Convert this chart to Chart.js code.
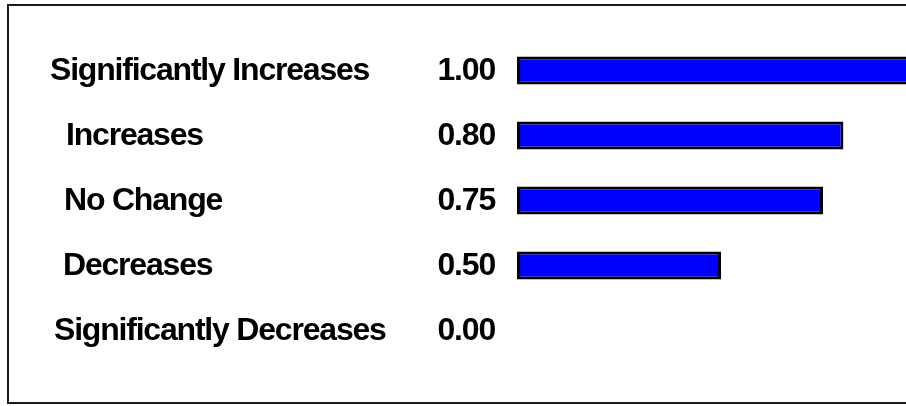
<!DOCTYPE html>
<html>
<head>
<meta charset="utf-8">
<title>Response scale</title>
<script src="https://cdn.jsdelivr.net/npm/chart.js@4/dist/chart.umd.min.js"></script>
<style>
    html, body { margin: 0; padding: 0; background: #fff; overflow: hidden; }
    #wrap { position: relative; width: 906px; height: 406px; overflow: hidden; }
    canvas { display: block; }
</style>
</head>
<body>
<div id="wrap">
    <canvas id="scaleChart" width="940" height="406"></canvas>
</div>
<script>
const categories = ["Significantly Increases", "Increases", "No Change", "Decreases", "Significantly Decreases"];
const weights = [1.00, 0.80, 0.75, 0.50, 0.00];

// frame + the two text columns (category name and its weight)
const scaleLabels = {
    id: 'scaleLabels',
    beforeDraw(chart) {
        const ctx = chart.ctx;
        ctx.save();
        ctx.strokeStyle = '#1a1a1a';
        ctx.lineWidth = 2;
        ctx.strokeRect(8, 5, 1000, 398);
        ctx.restore();
    },
    afterDraw(chart, args, opts) {
        const ctx = chart.ctx;
        const yScale = chart.scales.y;
        ctx.save();
        ctx.font = 'bold 32px "Liberation Sans", Arial, sans-serif';
        ctx.letterSpacing = '-1.2px';
        ctx.fillStyle = '#000';
        ctx.textBaseline = 'middle';
        categories.forEach((name, i) => {
            const y = yScale.getPixelForValue(i) + 1;
            ctx.textAlign = 'left';
            ctx.fillText(name, opts.indent[i], y);
            ctx.textAlign = 'right';
            ctx.fillText(weights[i].toFixed(2), opts.valueRight, y);
        });
        ctx.restore();
    }
};

const ctx = document.getElementById('scaleChart').getContext('2d');
new Chart(ctx, {
    type: 'bar',
    data: {
        labels: categories,
        datasets: [{
            data: weights,
            backgroundColor: '#0000ff',
            borderColor: '#000',
            borderWidth: c => (c.raw > 0 ? 3 : 0),
            borderSkipped: false,
            categoryPercentage: 1,
            barPercentage: 0.43
        }]
    },
    options: {
        indexAxis: 'y',
        responsive: false,
        animation: false,
        layout: { padding: { left: 517, right: 15, top: 38, bottom: 43 } },
        scales: {
            x: { display: false, min: 0, max: 1 },
            y: { display: false }
        },
        plugins: {
            legend: { display: false },
            tooltip: { enabled: false },
            scaleLabels: { indent: [50, 66, 64, 63, 54], valueRight: 495 }
        }
    },
    plugins: [scaleLabels]
});
</script>
</body>
</html>
